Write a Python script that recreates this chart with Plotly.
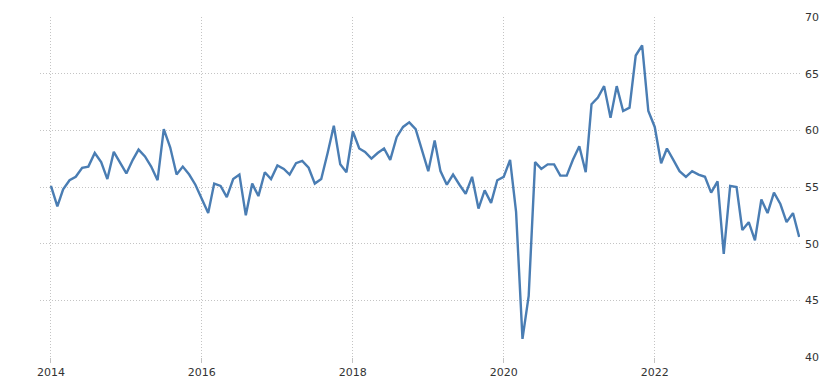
import plotly.graph_objects as go
import pandas as pd

start_month = "2014-01-01"
values = [
    55.1, 53.3, 54.8, 55.6, 55.9, 56.7, 56.8, 58.0, 57.2, 55.7, 58.1, 57.2,
    56.2, 57.4, 58.3, 57.7, 56.8, 55.6, 60.1, 58.5, 56.1, 56.8, 56.1, 55.2,
    53.9, 52.7, 55.3, 55.1, 54.1, 55.7, 56.1, 52.5, 55.3, 54.2, 56.3, 55.7,
    56.9, 56.6, 56.1, 57.1, 57.3, 56.7, 55.3, 55.7, 58.0, 60.4, 57.0, 56.3,
    59.9, 58.4, 58.1, 57.5, 58.0, 58.4, 57.4, 59.4, 60.3, 60.7, 60.1, 58.2,
    56.4, 59.1, 56.4, 55.2, 56.1, 55.2, 54.4, 55.9, 53.1, 54.7, 53.6, 55.6,
    55.9, 57.4, 52.8, 41.6, 45.4, 57.2, 56.6, 57.0, 57.0, 56.0, 56.0, 57.4,
    58.6, 56.3, 62.3, 62.9, 63.9, 61.1, 63.9, 61.7, 62.0, 66.6, 67.5, 61.7,
    60.3, 57.1, 58.4, 57.4, 56.4, 55.9, 56.4, 56.1, 55.9, 54.5, 55.5, 49.1,
    55.1, 55.0, 51.2, 51.9, 50.3, 53.9, 52.7, 54.5, 53.5, 51.9, 52.7, 50.6,
]
dates = pd.date_range(start_month, periods=len(values), freq="MS")

y_ticks = [40, 45, 50, 55, 60, 65, 70]
x_ticks = ["2014-01-01", "2016-01-01", "2018-01-01", "2020-01-01", "2022-01-01"]
x_labels = ["2014", "2016", "2018", "2020", "2022"]

fig = go.Figure()
fig.add_trace(go.Scatter(
    x=dates, y=values, mode="lines",
    line=dict(color="#4a7db3", width=2.4),
    hoverinfo="x+y", showlegend=False,
))

grid = "#c4c4c4"
fig.update_layout(
    width=822, height=374,
    margin=dict(l=32, r=30, t=9, b=25),
    paper_bgcolor="white", plot_bgcolor="white",
    font=dict(family="DejaVu Sans, Liberation Sans, sans-serif", size=11, color="#333333"),
    xaxis=dict(
        range=["2013-11-09", "2023-12-05"],
        tickvals=x_ticks, ticktext=x_labels,
        showgrid=True, gridcolor=grid, griddash="1px,2px", gridwidth=1,
        ticks="outside", ticklen=5, tickcolor=grid,
        showline=False, zeroline=False, automargin=False,
    ),
    yaxis=dict(
        side="right", range=[40, 70], tickvals=y_ticks,
        showgrid=True, gridcolor=grid, griddash="1px,2px", gridwidth=1,
        ticks="", ticklabelstandoff=4,
        showline=False, zeroline=False, automargin=False,
    ),
)

fig.write_html("out.html")
